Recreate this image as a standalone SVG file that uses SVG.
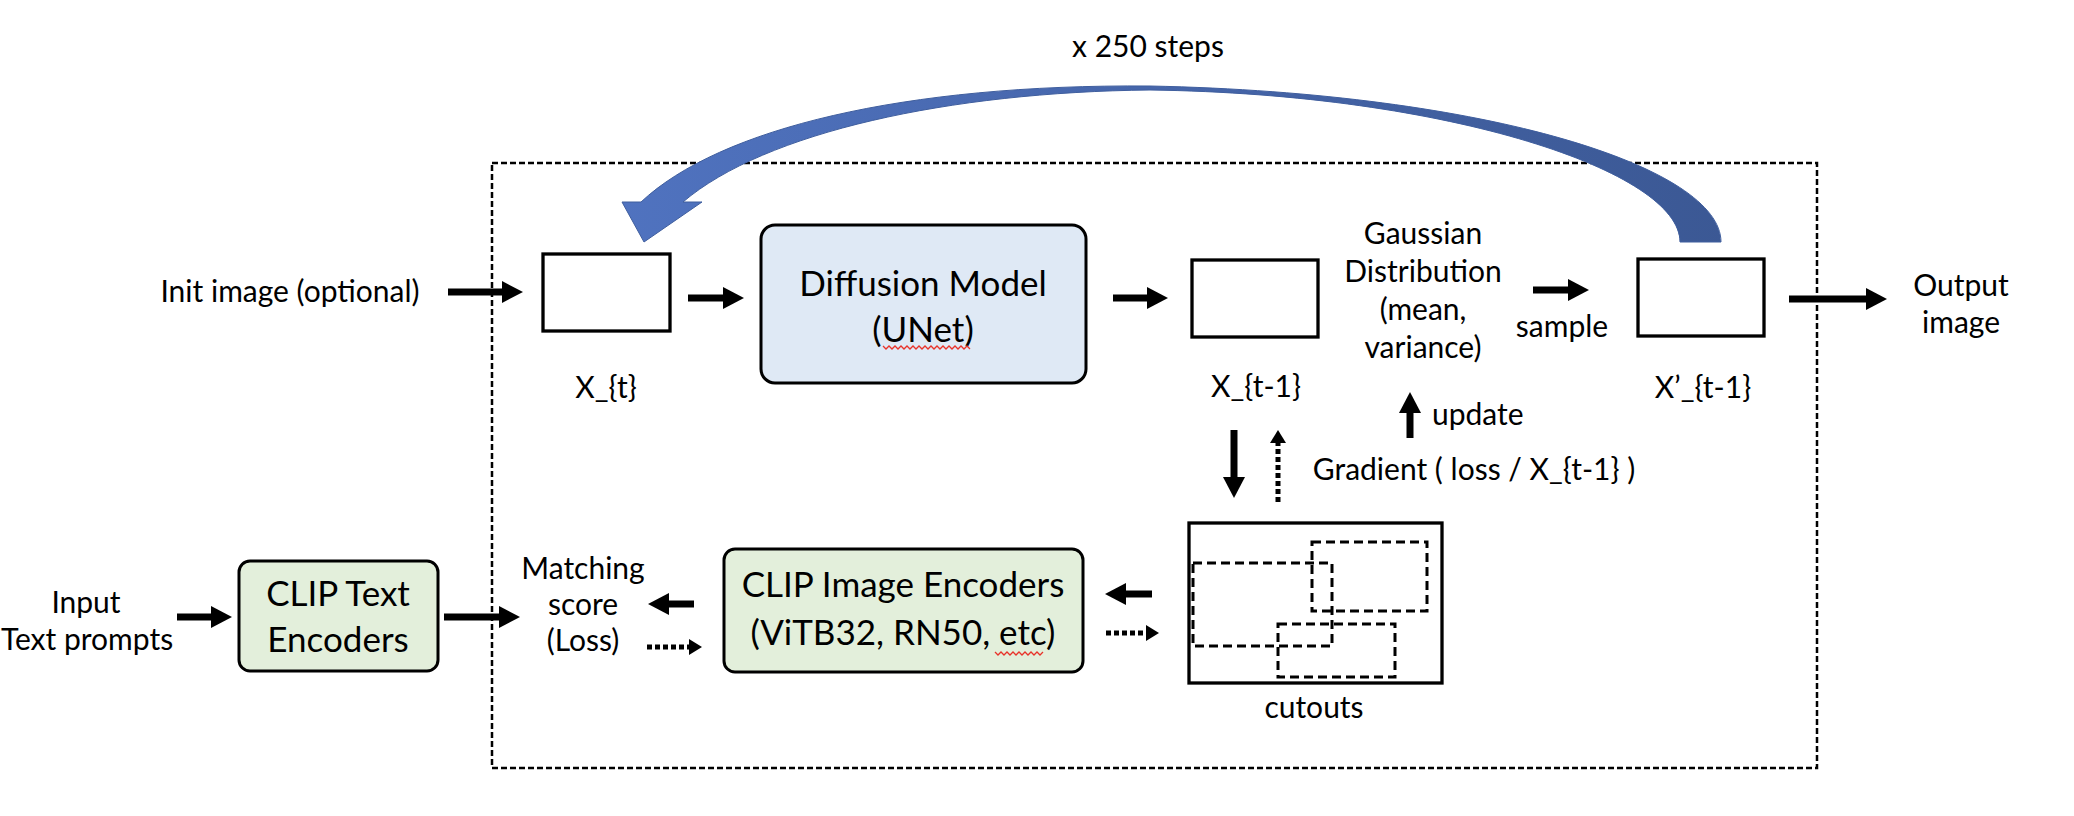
<svg xmlns="http://www.w3.org/2000/svg" width="2074" height="816" viewBox="0 0 2074 816">
<defs>
<style>
text{font-family:Lato,"Liberation Sans",sans-serif;fill:#000;}
.lb{font-size:30px;text-anchor:middle;}
.bx{font-size:35px;text-anchor:middle;}
.img{fill:#fff;stroke:#000;stroke-width:3.3;}
.sh{stroke:#000;stroke-width:7;fill:none;}
.dt{stroke:#000;stroke-width:5;fill:none;stroke-dasharray:5 3;}
.cut{fill:none;stroke:#000;stroke-width:3;stroke-dasharray:9 5;}
.sq{fill:none;stroke:#e8332a;stroke-width:1.3;}
</style>
<marker id="ah" markerUnits="userSpaceOnUse" viewBox="0 0 21 22" refX="0" refY="11" markerWidth="21" markerHeight="22" orient="auto"><path d="M0,0 L21,11 L0,22 Z" fill="#000"/></marker>
<marker id="ahs" markerUnits="userSpaceOnUse" viewBox="0 0 13 16" refX="0" refY="8" markerWidth="13" markerHeight="16" orient="auto"><path d="M0,0 L13,8 L0,16 Z" fill="#000"/></marker>
<linearGradient id="blue" x1="600" y1="0" x2="1730" y2="0" gradientUnits="userSpaceOnUse"><stop offset="0" stop-color="#5073C0"/><stop offset="1" stop-color="#3B5894"/></linearGradient>
</defs>
<rect width="2074" height="816" fill="#fff"/>

<rect id="frame" x="492" y="163" width="1325" height="605" fill="none" stroke="#000" stroke-width="2.5" stroke-dasharray="6 3"/>

<g id="loop">
<path d="M1721,242 C1721,168 1490,93 1150,86 C905,84 720,128 641,202 L622,202 L644,242 L702,202 L683,202 C765,132 950,92 1150,90 C1450,94 1680,172 1680,242 Z" fill="url(#blue)" stroke="#3F5E9E" stroke-width="1"/>
<text class="lb" x="1148" y="57">x 250 steps</text>
</g>

<g id="init"><text class="lb" x="290" y="302">Init image (optional)</text></g>

<g id="xt"><rect class="img" x="543" y="254" width="127" height="77"/><text class="lb" x="606" y="398">X_{t}</text></g>

<g id="diffusion"><rect x="761" y="225" width="325" height="158" rx="14" fill="#DFE9F5" stroke="#000" stroke-width="3"/>
<text class="bx" x="923" y="296">Diffusion Model</text><text class="bx" x="923" y="342">(UNet)</text>
<path class="sq" d="M883,346 l3,3 l3,-3 l3,3 l3,-3 l3,3 l3,-3 l3,3 l3,-3 l3,3 l3,-3 l3,3 l3,-3 l3,3 l3,-3 l3,3 l3,-3 l3,3 l3,-3 l3,3 l3,-3 l3,3 l3,-3 l3,3 l3,-3 l3,3 l3,-3 l3,3 l3,-3 l3,3"/>
</g>

<g id="xt1"><rect class="img" x="1192" y="260" width="126" height="77"/><text class="lb" x="1256" y="397">X_{t-1}</text></g>

<g id="gaussian"><text class="lb" x="1423" y="244">Gaussian</text><text class="lb" x="1423" y="282">Distribution</text><text class="lb" x="1423" y="320">(mean,</text><text class="lb" x="1423" y="358">variance)</text></g>

<g id="sample"><text class="lb" x="1562" y="337">sample</text></g>

<g id="xpt1"><rect class="img" x="1638" y="259" width="126" height="77"/><text class="lb" x="1703" y="398">X’_{t-1}</text></g>

<g id="output"><text class="lb" x="1961" y="296">Output</text><text class="lb" x="1961" y="333">image</text></g>

<g id="update"><text class="lb" x="1432" y="425" style="text-anchor:start">update</text></g>

<g id="gradient"><text class="lb" x="1474" y="480">Gradient ( loss / X_{t-1} )</text></g>

<g id="cutouts"><rect class="img" x="1189" y="523" width="253" height="160"/>
<rect class="cut" x="1193" y="563" width="139" height="83"/>
<rect class="cut" x="1312" y="542" width="115" height="69"/>
<rect class="cut" x="1278" y="624" width="117" height="53"/>
<text class="lb" x="1314" y="718">cutouts</text></g>

<g id="clipimg"><rect x="724" y="549" width="359" height="123" rx="11" fill="#E3EFDB" stroke="#000" stroke-width="3"/>
<text class="bx" x="903" y="597">CLIP Image Encoders</text><text class="bx" x="903" y="645">(ViTB32, RN50, etc)</text>
<path class="sq" d="M995,652 l3,3 l3,-3 l3,3 l3,-3 l3,3 l3,-3 l3,3 l3,-3 l3,3 l3,-3 l3,3 l3,-3 l3,3 l3,-3 l3,3 l3,-3"/>
</g>

<g id="matching"><text class="lb" x="583" y="579">Matching</text><text class="lb" x="583" y="615">score</text><text class="lb" x="583" y="651">(Loss)</text></g>

<g id="cliptext"><rect x="239" y="561" width="199" height="110" rx="11" fill="#E3EFDB" stroke="#000" stroke-width="3"/>
<text class="bx" x="338" y="606">CLIP Text</text><text class="bx" x="338" y="652">Encoders</text></g>

<g id="input"><text class="lb" x="86" y="613">Input</text><text class="lb" x="87" y="650">Text prompts</text></g>

<g id="connectors">
<line class="sh" x1="448" y1="292" x2="502" y2="292" marker-end="url(#ah)"/>
<line class="sh" x1="688" y1="298" x2="723" y2="298" marker-end="url(#ah)"/>
<line class="sh" x1="1113" y1="298" x2="1147" y2="298" marker-end="url(#ah)"/>
<line class="sh" x1="1533" y1="290" x2="1568" y2="290" marker-end="url(#ah)"/>
<line class="sh" x1="1789" y1="299" x2="1866" y2="299" marker-end="url(#ah)"/>
<line class="sh" x1="1410" y1="438" x2="1410" y2="413" marker-end="url(#ah)"/>
<line class="sh" x1="1234" y1="430" x2="1234" y2="477" marker-end="url(#ah)"/>
<line class="dt" x1="1278" y1="502" x2="1278" y2="443" marker-end="url(#ahs)"/>
<line class="sh" x1="1152" y1="594" x2="1126" y2="594" marker-end="url(#ah)"/>
<line class="dt" x1="1106" y1="633" x2="1146" y2="633" marker-end="url(#ahs)"/>
<line class="sh" x1="177" y1="617" x2="211" y2="617" marker-end="url(#ah)"/>
<line class="sh" x1="444" y1="617" x2="499" y2="617" marker-end="url(#ah)"/>
<line class="sh" x1="694" y1="604" x2="669" y2="604" marker-end="url(#ah)"/>
<line class="dt" x1="647" y1="647" x2="689" y2="647" marker-end="url(#ahs)"/>
</g>
</svg>
